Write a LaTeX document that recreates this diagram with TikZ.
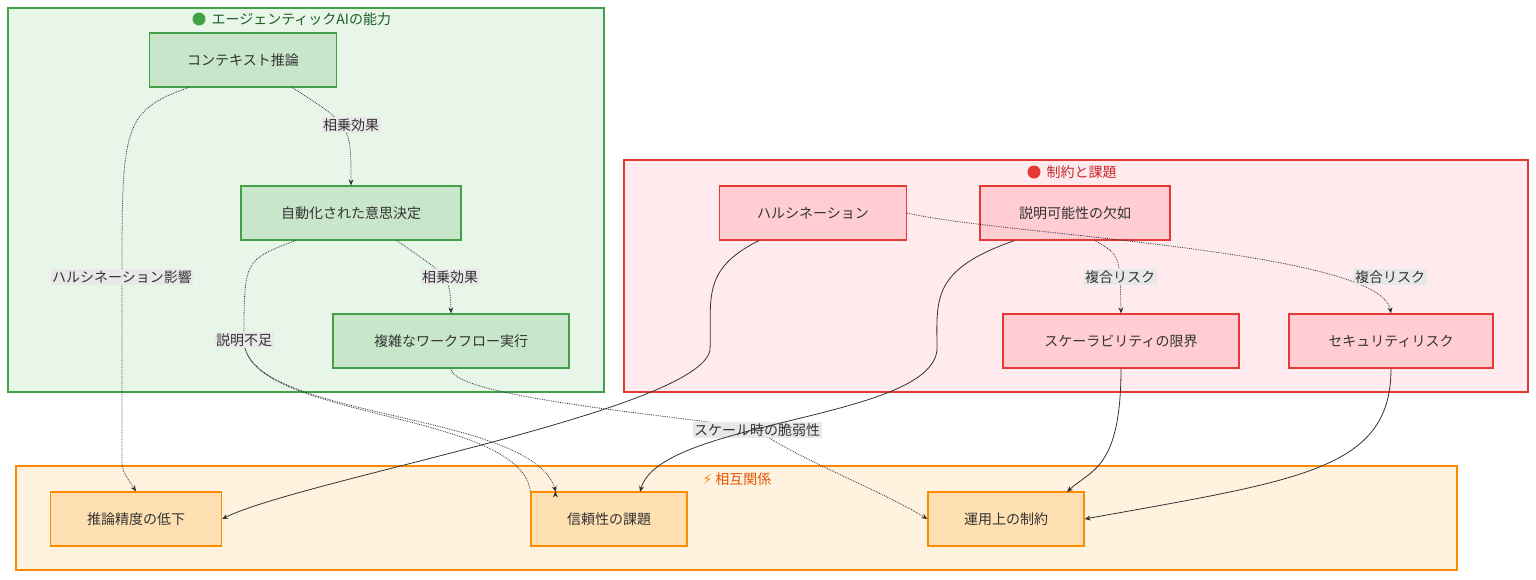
\documentclass[tikz,border=0pt]{standalone}
\usepackage{fontspec}
\setmainfont{Noto Sans CJK JP}
\newfontfamily\symfont{DejaVu Sans}
\usetikzlibrary{arrows.meta}
\definecolor{gfill}{HTML}{E8F5E9}\definecolor{gline}{HTML}{43A047}
\definecolor{gnode}{HTML}{C8E6C9}\definecolor{gtext}{HTML}{1B5E20}
\definecolor{rfill}{HTML}{FFEBEE}\definecolor{rline}{HTML}{E53935}
\definecolor{rnode}{HTML}{FFCDD2}\definecolor{rtext}{HTML}{C62828}
\definecolor{ofill}{HTML}{FFF3E0}\definecolor{oline}{HTML}{FB8C00}
\definecolor{onode}{HTML}{FFE0B2}\definecolor{otext}{HTML}{E65100}
\definecolor{lbl}{HTML}{E8E8E8}\definecolor{ink}{HTML}{333333}
\begin{document}
\begin{tikzpicture}[x=1pt,y=-1pt,>={Stealth[length=6pt,width=5pt]},
  box/.style={draw,line width=1.2pt,minimum height=54pt,inner sep=0pt,font=\fontsize{14}{16}\selectfont,text=ink},
  gbox/.style={box,fill=gnode,draw=gline},
  rbox/.style={box,fill=rnode,draw=rline},
  obox/.style={box,fill=onode,draw=oline},
  link/.style={->,draw=ink,line width=0.8pt},
  soft/.style={link,densely dotted},
  tag/.style={fill=lbl,inner sep=1.5pt,font=\fontsize{14}{16}\selectfont,text=ink}]
\useasboundingbox (0,0) rectangle (1536,579);
% groups
\draw[fill=gfill,draw=gline,line width=1.2pt] (8,8) rectangle (604,392);
\draw[fill=rfill,draw=rline,line width=1.2pt] (624,160) rectangle (1528,392);
\draw[fill=ofill,draw=oline,line width=1.2pt] (16,466) rectangle (1457,570);
\fill[gline] (199,19) circle (6.5pt);
\node[text=gtext,font=\fontsize{14}{16}\selectfont,anchor=west] (gtitle) at (208,19) {エージェンティックAIの能力};
\fill[rline] (1034,172) circle (6.5pt);
\node[text=rtext,font=\fontsize{14}{16}\selectfont,anchor=west] (rtitle) at (1043,172) {制約と課題};
\node[text=otext,font=\fontsize{14}{16}\selectfont] (otitle) at (737,479) {{\symfont\color{orange}⚡} 相互関係};
% nodes
\node[gbox,minimum width=187pt] (ctx) at (243,60) {コンテキスト推論};
\node[gbox,minimum width=220pt] (auto) at (351,213) {自動化された意思決定};
\node[gbox,minimum width=236pt] (wf) at (451,341) {複雑なワークフロー実行};
\node[rbox,minimum width=187pt] (hal) at (813,213) {ハルシネーション};
\node[rbox,minimum width=190pt] (exp) at (1075,213) {説明可能性の欠如};
\node[rbox,minimum width=236pt] (scale) at (1121,341) {スケーラビリティの限界};
\node[rbox,minimum width=204pt] (sec) at (1391,341) {セキュリティリスク};
\node[obox,minimum width=171pt] (low) at (136,519) {推論精度の低下};
\node[obox,minimum width=156pt] (rel) at (609,519) {信頼性の課題};
\node[obox,minimum width=156pt] (ops) at (1006,519) {運用上の制約};
% edges
\draw[soft] (ctx.south east) ++(-45,0) .. controls (351,125) .. (auto.north);
\node[tag] (t1) at (351,125) {相乗効果};
\draw[soft] (auto.south east) ++(-65,0) .. controls (450,277) .. (wf.north);
\node[tag] (t2) at (450,277) {相乗効果};
\draw[soft] (ctx.south west) ++(40,0) .. controls (122,110) and (122,130) .. (122,277) -- (122,460) .. controls (122,470) .. (low.north);
\node[tag] (t3) at (122,277) {ハルシネーション影響};
\draw[soft] (auto.south west) ++(55,0) .. controls (244,260) .. (244,340) .. controls (244,420) and (520,410) .. (rel.north west) ++(25,0);
\draw[soft] (244,340) .. controls (244,420) and (530,410) .. (556,492);
\node[tag] (t4) at (244,340) {説明不足};
\draw[soft] (wf.south) .. controls (451,400) and (730,420) .. (757,430) .. controls (800,460) and (880,490) .. (ops.west);
\node[tag] (t5) at (757,430) {スケール時の脆弱性};
\draw[soft] (hal.east) .. controls (1000,235) and (1380,250) .. (sec.north);
\node[tag] (t6) at (1390,277) {複合リスク};
\draw[soft] (exp.south) ++(20,0) .. controls (1120,255) .. (scale.north);
\node[tag] (t7) at (1120,277) {複合リスク};
\draw[link] (hal.south west) ++(40,0) .. controls (700,270) and (712,300) .. (710,350) .. controls (700,410) and (300,480) .. (low.east);
\draw[link] (exp.south west) ++(35,0) .. controls (930,270) and (937,300) .. (937,350) .. controls (930,420) and (660,420) .. (640,492);
\draw[link] (scale.south) .. controls (1121,470) and (1090,470) .. (1067,492);
\draw[link] (sec.south) .. controls (1391,470) and (1300,480) .. (ops.east);
\end{tikzpicture}
\end{document}
